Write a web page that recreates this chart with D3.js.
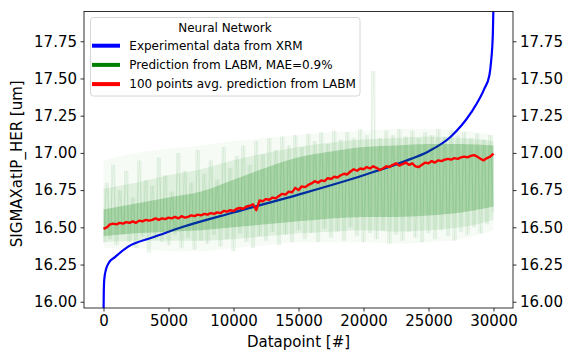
<!DOCTYPE html>
<html>
<head>
<meta charset="utf-8">
<script src="https://cdn.jsdelivr.net/npm/d3@7"></script>
<style>
  body { margin: 0; background: #fff; }
  svg { display: block; font-family: "DejaVu Sans", sans-serif; }
</style>
</head>
<body>
<div id="chart"></div>
<script>
// experimental (sorted) curve
const xrmAt  = [0, 20, 60, 170, 400, 880, 1900, 3700, 5000, 6000, 10000, 15000, 20000, 23650, 25000, 26730, 28270, 29290, 29680, 29810, 29950, 29999];
const xrmVal = [15.9, 16.05, 16.15, 16.21, 16.26, 16.30, 16.37, 16.43, 16.47, 16.50, 16.60, 16.72, 16.85, 16.96, 17.01, 17.11, 17.27, 17.43, 17.52, 17.61, 17.8, 18.0];

// band of single predictions: faint outer part, middle part, dense core
const bandAt   = [0, 2500, 5000, 7500, 10000, 12500, 15000, 17500, 20000, 22500, 25000, 27500, 30000];
const outerHi  = [16.95, 17.00, 17.03, 17.05, 17.08, 17.10, 17.12, 17.14, 17.15, 17.16, 17.16, 17.15, 17.12];
const outerLo  = [16.36, 16.36, 16.34, 16.34, 16.36, 16.38, 16.40, 16.40, 16.40, 16.39, 16.40, 16.42, 16.48];
const midHi    = [16.76, 16.80, 16.85, 16.89, 16.95, 17.00, 17.04, 17.07, 17.09, 17.10, 17.11, 17.10, 17.08];
const midLo    = [16.40, 16.41, 16.41, 16.41, 16.42, 16.44, 16.46, 16.47, 16.48, 16.47, 16.48, 16.50, 16.55];
const coreHi   = [16.62, 16.66, 16.70, 16.74, 16.82, 16.90, 16.97, 17.01, 17.04, 17.05, 17.06, 17.06, 17.05];
const coreLo   = [16.44, 16.46, 16.47, 16.48, 16.50, 16.52, 16.54, 16.56, 16.57, 16.57, 16.58, 16.60, 16.64];

// prediction streak extremes, one every 250 datapoints
const predStep = 250;
const predVal = [
  16.40, 16.80, 16.42, 16.92, 16.38, 16.75, 16.45, 16.88, 16.40, 16.70,
  16.36, 16.95, 16.44, 16.82, 16.33, 16.78, 16.42, 16.97, 16.40, 16.85,
  16.38, 16.74, 16.45, 17.00, 16.36, 16.88, 16.43, 16.80, 16.35, 17.02,
  16.41, 16.86, 16.39, 16.95, 16.45, 16.82, 16.37, 17.04, 16.42, 16.90,
  16.34, 16.98, 16.46, 17.05, 16.40, 16.92, 16.36, 17.08, 16.44, 16.99,
  16.41, 17.10, 16.47, 17.02, 16.38, 17.11, 16.45, 17.05, 16.40, 17.12,
  16.48, 17.04, 16.42, 17.13, 16.46, 17.08, 16.40, 17.14, 16.49, 17.06,
  16.43, 17.15, 16.47, 17.09, 16.41, 17.14, 16.50, 17.10, 16.44, 17.16,
  16.40, 17.12, 16.46, 17.55, 16.42, 17.10, 16.48, 17.15, 16.39, 17.12,
  16.45, 17.16, 16.41, 17.11, 16.47, 17.15, 16.43, 17.10, 16.40, 17.14,
  16.46, 17.12, 16.42, 17.16, 16.48, 17.11, 16.44, 17.15, 16.41, 17.12,
  16.47, 17.14, 16.45, 17.10, 16.50, 17.13, 16.46, 17.09, 16.52, 17.12,
  16.60
];

// 100 points moving average, one every 250 datapoints
const avgStep = 250;
const avgVal = [
  16.49, 16.50, 16.52, 16.525, 16.52, 16.53, 16.525, 16.535, 16.53, 16.54,
  16.53, 16.545, 16.54, 16.55, 16.545, 16.55, 16.56, 16.55, 16.56, 16.555,
  16.565, 16.56, 16.57, 16.56, 16.575, 16.565, 16.57, 16.58, 16.575, 16.585,
  16.58, 16.59, 16.585, 16.595, 16.59, 16.60, 16.595, 16.61, 16.605, 16.615,
  16.61, 16.625, 16.63, 16.625, 16.64, 16.645, 16.655, 16.615, 16.68, 16.675,
  16.69, 16.685, 16.70, 16.695, 16.71, 16.725, 16.72, 16.74, 16.735, 16.765,
  16.75, 16.775, 16.77, 16.785, 16.795, 16.81, 16.80, 16.815, 16.81, 16.83,
  16.825, 16.84, 16.835, 16.85, 16.86, 16.855, 16.875, 16.89, 16.88, 16.895,
  16.89, 16.905, 16.895, 16.91, 16.90, 16.885, 16.895, 16.91, 16.905, 16.92,
  16.93, 16.915, 16.925, 16.935, 16.92, 16.93, 16.91, 16.905, 16.92, 16.935,
  16.93, 16.945, 16.935, 16.95, 16.945, 16.955, 16.96, 16.955, 16.965, 16.96,
  16.97, 16.975, 16.97, 16.98, 16.985, 16.975, 16.96, 16.95, 16.965, 16.975,
  16.995
];

const xTicks = [0, 5000, 10000, 15000, 20000, 25000, 30000];
const yTicks = [16.00, 16.25, 16.50, 16.75, 17.00, 17.25, 17.50, 17.75];

const legendTitle = 'Neural Network';
const legendItems = [
  {label: 'Experimental data from XRM', color: '#0000ff'},
  {label: 'Prediction from LABM, MAE=0.9%', color: '#008000'},
  {label: '100 points avg. prediction from LABM', color: '#ff0000'}
];

const W = 576, H = 360;
const margin = {top: 11.5, right: 63, bottom: 52, left: 84};
const width = W - margin.left - margin.right,
      height = H - margin.top - margin.bottom;

const svg = d3.select('#chart').append('svg')
    .attr('width', W)
    .attr('height', H);

const g = svg.append('g')
    .attr('transform', `translate(${margin.left},${margin.top})`);

const x = d3.scaleLinear().domain([-1500, 31500]).range([0, width]);
const y = d3.scaleLinear().domain([15.958, 17.95]).range([height, 0]);

g.append('clipPath').attr('id', 'clip')
  .append('rect').attr('width', width).attr('height', height);

const plot = g.append('g').attr('clip-path', 'url(#clip)');

// blue experimental curve
const xrm = xrmAt.map((d, i) => [d, xrmVal[i]]);
plot.append('path')
    .datum(xrm)
    .attr('fill', 'none')
    .attr('stroke', '#0000ff')
    .attr('stroke-width', 2.2)
    .attr('d', d3.line().curve(d3.curveMonotoneX).x(d => x(d[0])).y(d => y(d[1])));

// green band, layered
const band = bandAt.map((d, i) => ({v: d, oh: outerHi[i], ol: outerLo[i], mh: midHi[i], ml: midLo[i], ch: coreHi[i], cl: coreLo[i]}));
const layers = [['ol', 'oh', 0.035], ['ml', 'mh', 0.09], ['cl', 'ch', 0.24]];
layers.forEach(([lo, hi, op]) => {
  const area = d3.area().curve(d3.curveMonotoneX)
      .x(d => x(d.v))
      .y0(d => y(d[lo]))
      .y1(d => y(d[hi]));
  plot.append('path')
      .datum(band)
      .attr('fill', '#008000')
      .attr('fill-opacity', op)
      .attr('d', area);
});

// streaks: zigzag through the predictions and vertical strokes between neighbours
const pred = predVal.map((d, i) => [i * predStep, d]);
plot.append('path')
    .datum(pred)
    .attr('fill', 'none')
    .attr('stroke', '#008000')
    .attr('stroke-opacity', 0.14)
    .attr('stroke-width', 0.6)
    .attr('d', d3.line().x(d => x(d[0])).y(d => y(d[1])));

plot.append('g').selectAll('line')
    .data(pred.slice(0, -1))
    .join('line')
    .attr('x1', d => x(d[0] + predStep / 2))
    .attr('x2', d => x(d[0] + predStep / 2))
    .attr('y1', d => y(d[1]))
    .attr('y2', (d, i) => y(pred[i + 1][1]))
    .attr('stroke', '#008000')
    .attr('stroke-opacity', 0.16)
    .attr('stroke-width', 0.6);

// red average
const avg = avgVal.map((d, i) => [i * avgStep, d]);
plot.append('path')
    .datum(avg)
    .attr('fill', 'none')
    .attr('stroke', '#ff0000')
    .attr('stroke-width', 2.4)
    .attr('stroke-linejoin', 'round')
    .attr('d', d3.line().x(d => x(d[0])).y(d => y(d[1])));

// axes
const fmt = d3.format('.2f');
const styleAxis = sel => {
  sel.selectAll('.domain').remove();
  sel.selectAll('.tick line').attr('stroke', '#000').attr('stroke-width', 0.8);
  sel.selectAll('.tick text').attr('font-size', 15).attr('fill', '#000')
     .attr('font-family', '"DejaVu Sans", sans-serif');
};

g.append('g')
    .attr('transform', `translate(0,${height})`)
    .call(d3.axisBottom(x).tickValues(xTicks).tickFormat(d3.format('d')).tickSize(3.5).tickPadding(3.5))
    .call(styleAxis);

g.append('g')
    .call(d3.axisLeft(y).tickValues(yTicks).tickFormat(fmt).tickSize(3.5).tickPadding(3.5))
    .call(styleAxis);

g.append('g')
    .attr('transform', `translate(${width},0)`)
    .call(d3.axisRight(y).tickValues(yTicks).tickFormat(fmt).tickSize(3.5).tickPadding(3.5))
    .call(styleAxis);

g.append('rect')
    .attr('width', width).attr('height', height)
    .attr('fill', 'none').attr('stroke', '#000').attr('stroke-width', 0.8);

// axis labels
svg.append('text')
    .attr('x', margin.left + width / 2)
    .attr('y', 347)
    .attr('text-anchor', 'middle')
    .attr('font-size', 15)
    .text('Datapoint [#]');

svg.append('text')
    .attr('transform', `translate(22,${margin.top + height / 2 + 4}) rotate(-90)`)
    .attr('text-anchor', 'middle')
    .attr('font-size', 15)
    .text('SIGMAXatIP_HER [um]');

// legend
const lg = svg.append('g').attr('transform', 'translate(90.5,17.5)');
lg.append('rect')
    .attr('width', 269.5).attr('height', 78.5)
    .attr('rx', 3)
    .attr('fill', '#fff').attr('fill-opacity', 0.8)
    .attr('stroke', '#cccccc').attr('stroke-width', 0.8);
lg.append('text')
    .attr('x', 134.5).attr('y', 14)
    .attr('text-anchor', 'middle')
    .attr('font-size', 12)
    .text(legendTitle);
legendItems.forEach((d, i) => {
  const cy = 28.2 + i * 19.2;
  lg.append('line')
      .attr('x1', 1.5).attr('x2', 29.5)
      .attr('y1', cy).attr('y2', cy)
      .attr('stroke', d.color).attr('stroke-width', 4);
  lg.append('text')
      .attr('x', 38.8).attr('y', cy + 4.3)
      .attr('font-size', 12)
      .text(d.label);
});
</script>
</body>
</html>
